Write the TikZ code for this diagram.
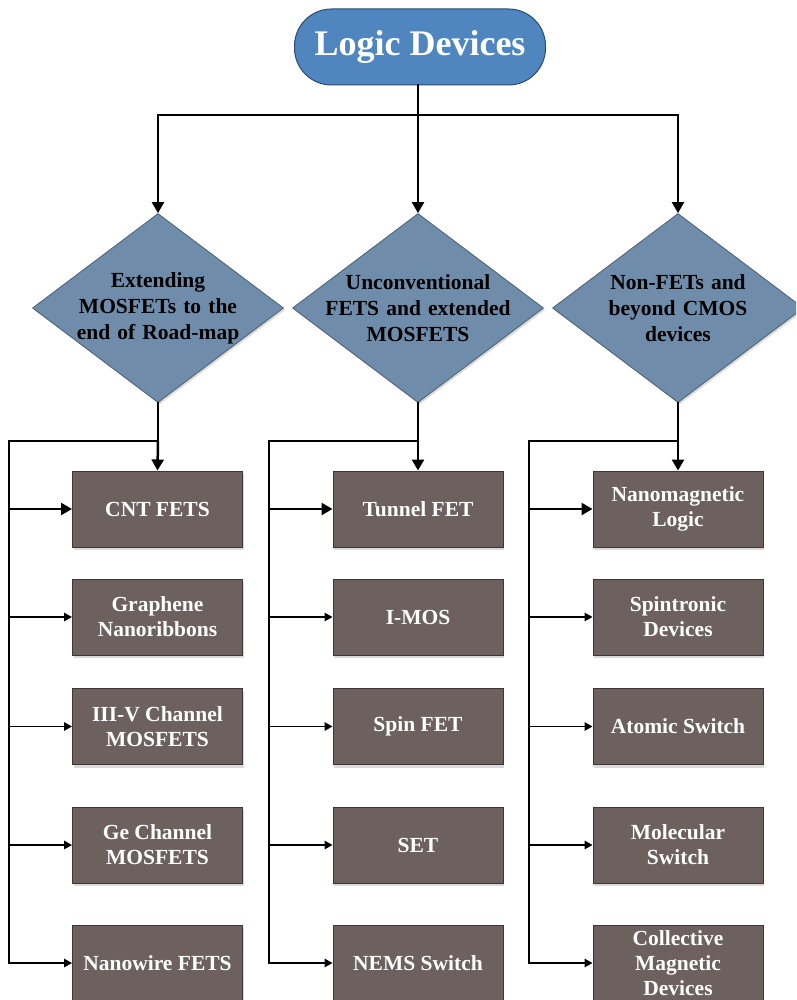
\documentclass[tikz,border=0pt]{standalone}
\usepackage{fontspec}
\setmainfont{Liberation Serif}
\usetikzlibrary{shapes.geometric,arrows.meta,shadows}
\definecolor{topblue}{HTML}{4F86BF}
\definecolor{topedge}{HTML}{2B4A6E}
\definecolor{diafill}{HTML}{6F8DAA}
\definecolor{diaedge}{HTML}{4A5F73}
\definecolor{boxfill}{HTML}{6C615F}
\definecolor{boxedge}{HTML}{3E3636}
\definecolor{shadowgray}{HTML}{DADADA}
\begin{document}
\begin{tikzpicture}[x=1pt,y=-1pt,
  titlebox/.style={draw=topedge, line width=1pt, fill=topblue, rounded corners=37pt,
    minimum width=251pt, minimum height=76pt, inner sep=0pt, text=white,
    font=\bfseries\fontsize{36}{40}\selectfont},
  dia/.style={diamond, draw=diaedge, line width=0.8pt, fill=diafill,
    minimum width=251pt, minimum height=189pt, inner sep=0pt,
    drop shadow={shadow xshift=1.5pt, shadow yshift=-2pt, fill=shadowgray, opacity=1}},
  diatext/.style={text width=220pt, align=center, inner sep=0pt,
    font=\bfseries\fontsize{21.5}{26}\selectfont, text=black},
  dev/.style={rectangle, draw=boxedge, line width=1pt, fill=boxfill,
    minimum width=170pt, minimum height=76pt, inner sep=0pt, text=white, align=center,
    font=\bfseries\fontsize{21.5}{25}\selectfont,
    drop shadow={shadow xshift=1pt, shadow yshift=-3pt, fill=shadowgray, opacity=1}},
  conn/.style={line width=2.5pt, line cap=rect},
  bigarrow/.style={line width=2.5pt, -{Triangle[length=11pt,width=12pt]}},
  smallarrow/.style={line width=1.5pt, -{Triangle[length=8pt,width=8.5pt]}}
]
\useasboundingbox (0,0) rectangle (796,1000);
\begin{scope}
\clip (0,0) rectangle (796,1000);

% top node
\node[titlebox] (top) at (420,47) {Logic Devices};

% diamonds
\node[dia] (d1) at (158,308) {};
\node[dia] (d2) at (418,308) {};
\node[dia] (d3) at (678,308) {};
\node[diatext] (t1) at (d1.center) {Extending\\MOSFETs to the\\end of Road-map};
\node[diatext] (t2) at (d2.center) {Unconventional\\FETS and extended\\MOSFETS};
\node[diatext] (t3) at (d3.center) {Non-FETs and\\beyond CMOS\\devices};

% device boxes
\foreach \col/\cx in {1/157.5, 2/418, 3/678}{
  \foreach \row/\cy in {1/509, 2/617, 3/726.5, 4/845, 5/963}{
    \coordinate (p\col\row) at (\cx,\cy);
  }
}
\node[dev] (a1) at (p11) {CNT FETS};
\node[dev] (a2) at (p12) {Graphene\\Nanoribbons};
\node[dev] (a3) at (p13) {III-V Channel\\MOSFETS};
\node[dev] (a4) at (p14) {Ge Channel\\MOSFETS};
\node[dev] (a5) at (p15) {Nanowire FETS};

\node[dev] (b1) at (p21) {Tunnel FET};
\node[dev] (b2) at (p22) {I-MOS};
\node[dev] (b3) at (p23) {Spin FET};
\node[dev] (b4) at (p24) {SET};
\node[dev] (b5) at (p25) {NEMS Switch};

\node[dev] (c1) at (p31) {Nanomagnetic\\Logic};
\node[dev] (c2) at (p32) {Spintronic\\Devices};
\node[dev] (c3) at (p33) {Atomic Switch};
\node[dev] (c4) at (p34) {Molecular\\Switch};
\node[dev] (c5) at (p35) {Collective\\Magnetic\\Devices};

% top connectors
\coordinate (hb) at (418,115);
\coordinate (hl) at (158,115);
\coordinate (hr) at (678,115);
\draw[conn] (top.south -| hb) -- (hb);
\draw[conn] (hl) -- (hr);
\draw[bigarrow] (hl) -- (d1.north);
\draw[bigarrow] (hb) -- (d2.north);
\draw[bigarrow] (hr) -- (d3.north);

% column connectors
\foreach \n/\d/\vx in {a/d1/9, b/d2/269, c/d3/529}{
  \coordinate (\n br) at (\d.south |- 0,441);
  \coordinate (\n vt) at (\vx,441);
  \coordinate (\n vb) at (\vx,963);
  \draw[conn] (\d.south) -- (\n br) -- (\n vt) -- (\n vb);
  \draw[bigarrow] (\n br) -- (\n1.north);
  \draw[bigarrow] (\n vt |- \n1.west) -- (\n1.west);
  \foreach \r in {2,3,4,5}{
    \draw[smallarrow] (\n vt |- \n\r.west) -- (\n\r.west);
  }
}
\end{scope}
\end{tikzpicture}
\end{document}
